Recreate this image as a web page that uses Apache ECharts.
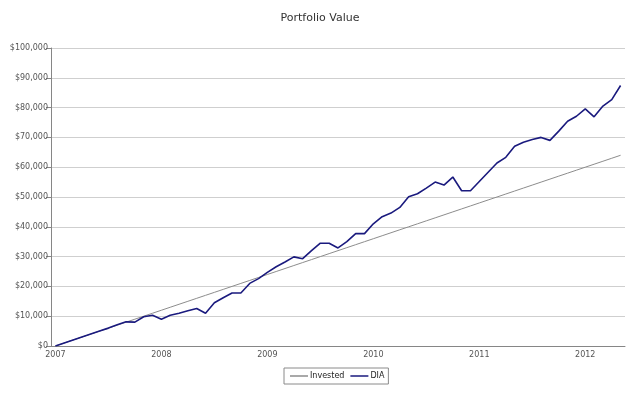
<!DOCTYPE html>
<html>
<head>
<meta charset="utf-8">
<title>Portfolio Value</title>
<script src="https://cdn.jsdelivr.net/npm/echarts@6/dist/echarts.min.js"></script>
<style>
  html, body { margin: 0; padding: 0; background: #fff; }
  #chart { width: 640px; height: 399px; }
</style>
</head>
<body>
<div id="chart"></div>
<script>
(function() {
  'use strict';

  // monthly points, Jan 2007 .. May 2012
  var months = [
    '2007-01', '2007-02', '2007-03', '2007-04', '2007-05', '2007-06', '2007-07', '2007-08', '2007-09', '2007-10', '2007-11', '2007-12',
    '2008-01', '2008-02', '2008-03', '2008-04', '2008-05', '2008-06', '2008-07', '2008-08', '2008-09', '2008-10', '2008-11', '2008-12',
    '2009-01', '2009-02', '2009-03', '2009-04', '2009-05', '2009-06', '2009-07', '2009-08', '2009-09', '2009-10', '2009-11', '2009-12',
    '2010-01', '2010-02', '2010-03', '2010-04', '2010-05', '2010-06', '2010-07', '2010-08', '2010-09', '2010-10', '2010-11', '2010-12',
    '2011-01', '2011-02', '2011-03', '2011-04', '2011-05', '2011-06', '2011-07', '2011-08', '2011-09', '2011-10', '2011-11', '2011-12',
    '2012-01', '2012-02', '2012-03', '2012-04', '2012-05'
  ];

  var invested = [
    0, 1000, 2000, 3000, 4000, 5000, 6000, 7000, 8000, 9000, 10000, 11000,
    12000, 13000, 14000, 15000, 16000, 17000, 18000, 19000, 20000, 21000, 22000, 23000,
    24000, 25000, 26000, 27000, 28000, 29000, 30000, 31000, 32000, 33000, 34000, 35000,
    36000, 37000, 38000, 39000, 40000, 41000, 42000, 43000, 44000, 45000, 46000, 47000,
    48000, 49000, 50000, 51000, 52000, 53000, 54000, 55000, 56000, 57000, 58000, 59000,
    60000, 61000, 62000, 63000, 64000
  ];

  var dia = [
    0, 1000, 2000, 3000, 4000, 5000, 6000, 7100, 8100, 8000, 9800, 10300,
    9000, 10300, 11000, 11800, 12600, 11000, 14500, 16200, 17800, 17800, 21000, 22600,
    24700, 26600, 28200, 29900, 29300, 32000, 34500, 34500, 32900, 35000, 37700, 37700,
    41000, 43400, 44600, 46500, 50100, 51100, 53000, 55000, 54000, 56700, 52100, 52100,
    55200, 58300, 61400, 63300, 67000, 68400, 69300, 70000, 69000, 72100, 75400, 77100,
    79600, 76900, 80500, 82700, 87400
  ];

  var fontFamily = '"DejaVu Sans", Verdana, sans-serif';
  var axisColor = '#868686';

  var dollars = function(v) {
    return '$' + String(v).replace(/\B(?=(\d{3})+(?!\d))/g, ',');
  };
  var isYearStart = function(index) {
    return index % 12 === 0;
  };

  var myChart = echarts.init(document.getElementById('chart'), null, { renderer: 'canvas' });
  var option = {
    animation: false,
    backgroundColor: '#ffffff',
    textStyle: { fontFamily: fontFamily },
    title: {
      text: 'Portfolio Value',
      left: 'center',
      top: 8,
      textStyle: {
        fontFamily: fontFamily,
        fontSize: 11,
        fontWeight: 'normal',
        color: '#333333'
      }
    },
    legend: {
      top: 368,
      left: 284,
      icon: 'rect',
      itemWidth: 18,
      itemHeight: 1.5,
      itemGap: 6,
      padding: [4, 4, 4, 6],
      borderColor: '#8a8a8a',
      borderWidth: 1,
      textStyle: { fontFamily: fontFamily, fontSize: 8, color: '#222222', padding: [0, 0, 0, -3] },
      data: ['Invested', 'DIA']
    },
    grid: {
      left: 51,
      right: 15,
      top: 48,
      bottom: 53
    },
    xAxis: {
      type: 'category',
      data: months,
      boundaryGap: true,
      axisLine: { lineStyle: { color: axisColor, width: 1 } },
      axisTick: { interval: isYearStart, length: 4, lineStyle: { color: axisColor } },
      axisLabel: {
        interval: isYearStart,
        margin: 5,
        fontSize: 8,
        color: '#555555',
        formatter: function(value) {
          return value.slice(0, 4);
        }
      },
      splitLine: { show: false }
    },
    yAxis: {
      type: 'value',
      min: 0,
      max: 100000,
      interval: 10000,
      axisLine: { show: true, lineStyle: { color: axisColor, width: 1 } },
      axisTick: { show: true, length: 5, lineStyle: { color: axisColor } },
      axisLabel: {
        margin: 3,
        fontSize: 8,
        color: '#555555',
        formatter: dollars
      },
      splitLine: { lineStyle: { color: '#cfcfcf', width: 1 } }
    },
    series: [{
      name: 'Invested',
      type: 'line',
      symbol: 'none',
      lineStyle: { color: '#8c8c8c', width: 1 },
      itemStyle: { color: '#8c8c8c' },
      data: invested
    }, {
      name: 'DIA',
      type: 'line',
      symbol: 'none',
      lineStyle: { color: '#1a1a7e', width: 1.6 },
      itemStyle: { color: '#1a1a7e' },
      z: 3,
      data: dia
    }]
  };
  myChart.setOption(option);
})();
</script>
</body>
</html>
